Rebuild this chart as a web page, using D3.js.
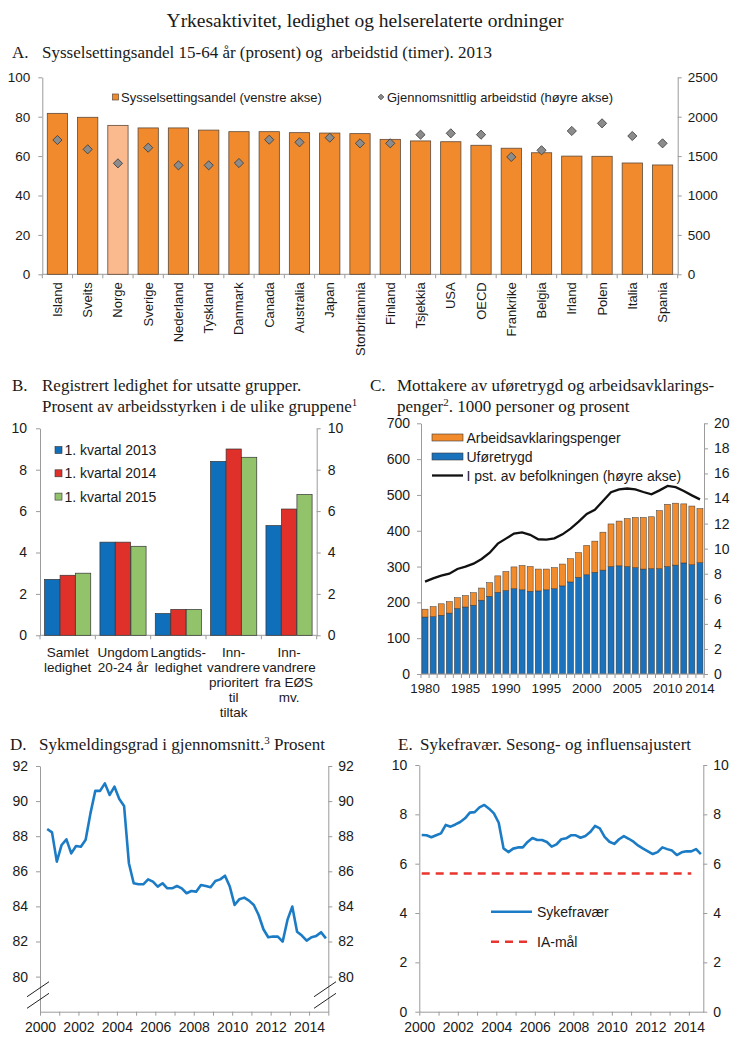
<!DOCTYPE html>
<html>
<head>
<meta charset="utf-8">
<script src="https://cdn.jsdelivr.net/npm/d3@7/dist/d3.min.js"></script>
<style>
  body { margin: 0; background: #fff; }
  svg { display: block; }
</style>
</head>
<body>
<div id="chart"></div>
<script>
// ---------- data ----------
// A
const countries = ["Island", "Sveits", "Norge", "Sverige", "Nederland", "Tyskland", "Danmark", "Canada",
  "Australia", "Japan", "Storbritannia", "Finland", "Tsjekkia", "USA", "OECD", "Frankrike", "Belgia",
  "Irland", "Polen", "Italia", "Spania"];
const employmentRate = [81.7, 79.7, 75.6, 74.3, 74.3, 73.2, 72.4, 72.4, 71.9, 71.7, 71.4, 68.5, 67.7,
  67.3, 65.5, 64.0, 61.7, 60.0, 59.9, 56.5, 55.5];
const hoursWorked = [1704, 1586, 1408, 1607, 1383, 1383, 1412, 1708, 1675, 1734, 1662, 1662, 1772,
  1789, 1772, 1489, 1574, 1819, 1916, 1755, 1662];

// B
const groupLabels = [["Samlet", "ledighet"], ["Ungdom", "20-24 år"], ["Langtids-", "ledighet"],
  ["Inn-", "vandrere", "prioritert", "til", "tiltak"], ["Inn-", "vandrere", "fra EØS", "mv."]];
const quarterKeys = ["1. kvartal 2013", "1. kvartal 2014", "1. kvartal 2015"];
const q1_2013 = [2.7, 4.5, 1.05, 8.4, 5.3];
const q1_2014 = [2.9, 4.5, 1.25, 9.0, 6.1];
const q1_2015 = [3.0, 4.3, 1.25, 8.6, 6.8];

// C
const yearsC = d3.range(1980, 2015);
const uforetrygd = [159, 160, 164, 170, 183, 187, 192, 206, 217, 228, 233, 238, 235, 231, 232, 235, 238,
  246, 257, 270, 277, 284, 290, 300, 302, 300, 297, 293, 294, 294, 300, 304, 310, 305, 311];
const arbeidsavklaring = [22, 28, 32, 32, 30, 32, 35, 34, 38, 46, 53, 61, 68, 69, 61, 58, 59, 61, 65, 69,
  82, 87, 106, 119, 125, 134, 140, 144, 145, 162, 174, 173, 165, 164, 151];
const befolkningPst = [7.37, 7.63, 7.85, 8.0, 8.38, 8.56, 8.8, 9.18, 9.68, 10.4, 10.8, 11.2, 11.3, 11.1,
  10.75, 10.72, 10.82, 11.14, 11.6, 12.15, 12.77, 13.1, 13.8, 14.5, 14.73, 14.8, 14.73, 14.52, 14.33,
  14.65, 15.0, 14.9, 14.6, 14.25, 13.93];
const yearLabelsC = [1980, 1985, 1990, 1995, 2000, 2005, 2010, 2014];

// D  (kvartal, 2000K2 - 2014K4)
const sykmeldingsgrad = [88.41, 88.22, 86.55, 87.5, 87.82, 87.02, 87.44, 87.4, 87.8, 89.3, 90.58, 90.58,
  91.01, 90.35, 90.82, 90.12, 89.72, 86.46, 85.32, 85.26, 85.26, 85.54, 85.41, 85.13, 85.32, 85.03, 85.03,
  85.16, 85.03, 84.75, 84.88, 84.84, 85.22, 85.16, 85.09, 85.45, 85.54, 85.75, 85.13, 84.08, 84.41, 84.5,
  84.33, 84.08, 83.51, 82.7, 82.24, 82.28, 82.28, 81.99, 83.23, 83.99, 82.56, 82.34, 82.05, 82.24, 82.32,
  82.53, 82.18];
const startD = 2000.25; // 2000K2

// E  (kvartal, 2000K1 - 2014K3)
const sykefravar = [7.16, 7.15, 7.07, 7.15, 7.23, 7.57, 7.5, 7.59, 7.69, 7.84, 8.07, 8.09, 8.28, 8.38,
  8.23, 8.04, 7.66, 6.62, 6.47, 6.61, 6.66, 6.66, 6.88, 7.04, 6.96, 6.96, 6.88, 6.69, 6.78, 6.99, 7.03,
  7.15, 7.15, 7.05, 7.12, 7.28, 7.53, 7.43, 7.09, 6.89, 6.8, 6.99, 7.12, 7.01, 6.89, 6.73, 6.61, 6.5,
  6.39, 6.47, 6.66, 6.59, 6.53, 6.35, 6.46, 6.5, 6.5, 6.59, 6.39];
const iaMal = 5.6;
const iaQuarters = 57;

// ---------- setup ----------
const W = 730, H = 1051;
const axisColor = "#9b9b9b", textColor = "#1a1a1a";
const sans = "'Liberation Sans', Arial, sans-serif";
const serif = "'Liberation Serif', 'Times New Roman', serif";

const svg = d3.select("#chart").append("svg")
  .attr("width", W).attr("height", H)
  .style("font-family", sans);

function styleAxis(g, size) {
  g.select(".domain").attr("stroke", axisColor);
  g.selectAll(".tick line").attr("stroke", axisColor);
  g.selectAll(".tick text").attr("fill", textColor).style("font-size", (size || 13.5) + "px")
    .style("font-family", sans);
}

function title(x, y, label, text, sup, rest, textX) {
  svg.append("text").attr("x", x).attr("y", y).style("font-family", serif)
    .style("font-size", "17px").attr("fill", textColor).text(label);
  const t = svg.append("text").attr("x", textX).attr("y", y).style("font-family", serif)
    .style("font-size", "17px").attr("fill", textColor).style("white-space", "pre");
  t.append("tspan").text(text);
  if (sup) {
    t.append("tspan").attr("dy", -6).style("font-size", "11px").text(sup);
    t.append("tspan").attr("dy", 6).text(rest || "");
  }
}

// main title
svg.append("text").attr("x", 365).attr("y", 27).attr("text-anchor", "middle")
  .style("font-family", serif).style("font-size", "19.5px").attr("fill", textColor)
  .text("Yrkesaktivitet, ledighet og helserelaterte ordninger");

// ================= Panel A =================
title(12, 58, "A.", "Sysselsettingsandel 15-64 år (prosent) og \u00a0arbeidstid (timer). 2013", null, null, 42);
{
  const x = d3.scaleBand().domain(countries).range([42.3, 677.7]).paddingInner(0.33).paddingOuter(0.165);
  const y = d3.scaleLinear().domain([0, 100]).range([274.3, 77.3]);
  const y2 = d3.scaleLinear().domain([0, 2500]).range([274.3, 77.3]);
  const g = svg.append("g");

  g.append("g").attr("transform", "translate(42.3,0)")
    .call(d3.axisLeft(y).tickValues(d3.range(0, 101, 20)).tickSize(4).tickSizeOuter(0).tickPadding(8))
    .call(a => styleAxis(a, 13.5));
  g.append("g").attr("transform", "translate(677.7,0)")
    .call(d3.axisRight(y2).tickValues(d3.range(0, 2501, 500)).tickFormat(d3.format("d"))
      .tickSize(4).tickSizeOuter(0).tickPadding(6))
    .call(a => styleAxis(a, 13.5));

  // category axis
  const step = x.step();
  g.append("line").attr("x1", 42.3).attr("x2", 677.7).attr("y1", y(0)).attr("y2", y(0)).attr("stroke", axisColor);
  g.selectAll(".catTick").data(d3.range(countries.length + 1)).join("line")
    .attr("x1", i => 42.3 + i * step).attr("x2", i => 42.3 + i * step)
    .attr("y1", y(0)).attr("y2", y(0) + 4).attr("stroke", axisColor);

  g.selectAll(".barA").data(countries).join("rect")
    .attr("x", d => x(d)).attr("width", x.bandwidth())
    .attr("y", (d, i) => y(employmentRate[i])).attr("height", (d, i) => y(0) - y(employmentRate[i]))
    .attr("fill", d => d === "Norge" ? "#fbb98e" : "#f08a2c")
    .attr("stroke", "#5e4a3a").attr("stroke-width", 0.8);

  g.selectAll(".diamond").data(countries).join("path")
    .attr("d", d3.symbol(d3.symbolSquare, 42))
    .attr("transform", (d, i) => `translate(${x(d) + x.bandwidth() / 2},${y2(hoursWorked[i])}) rotate(45)`)
    .attr("fill", "#8c8c8c").attr("stroke", "#3d3d3d").attr("stroke-width", 0.8);

  g.selectAll(".catLabel").data(countries).join("text")
    .attr("transform", d => `translate(${x(d) + x.bandwidth() / 2 + 4.5},${y(0) + 8}) rotate(-90)`)
    .attr("text-anchor", "end").style("font-size", "13px").attr("fill", textColor).text(d => d);

  // legend
  g.append("rect").attr("x", 112.5).attr("y", 94).attr("width", 6).attr("height", 6)
    .attr("fill", "#f08a2c").attr("stroke", "#5e4a3a").attr("stroke-width", 0.7);
  g.append("text").attr("x", 121).attr("y", 101.5).style("font-size", "13px").attr("fill", textColor)
    .text("Sysselsettingsandel (venstre akse)");
  g.append("path").attr("d", d3.symbol(d3.symbolSquare, 16))
    .attr("transform", "translate(381,97) rotate(45)")
    .attr("fill", "#8c8c8c").attr("stroke", "#3d3d3d").attr("stroke-width", 0.7);
  g.append("text").attr("x", 387).attr("y", 101.5).style("font-size", "13px").attr("fill", textColor)
    .text("Gjennomsnittlig arbeidstid (høyre akse)");
}

// ================= Panel B =================
title(12, 391, "B.", "Registrert ledighet for utsatte grupper.", null, null, 42);
title(12, 412, "", "Prosent av arbeidsstyrken i de ulike gruppene", "1", "", 42);
{
  const groups = groupLabels.map(d => d.join(" "));
  const seriesB = [q1_2013, q1_2014, q1_2015];
  const colorsB = ["#0f6fba", "#e0302a", "#92c36b"];
  const x0 = d3.scaleBand().domain(groups).range([40, 316.7]).paddingInner(0.155).paddingOuter(0.0775);
  const x1 = d3.scaleBand().domain(quarterKeys).range([0, x0.bandwidth()]).padding(0.02);
  const y = d3.scaleLinear().domain([0, 10]).range([635.3, 428.3]);
  const g = svg.append("g");

  g.append("g").attr("transform", "translate(40,0)")
    .call(d3.axisLeft(y).tickValues(d3.range(0, 11, 2)).tickSize(4).tickSizeOuter(0).tickPadding(9))
    .call(a => styleAxis(a, 14));
  g.append("g").attr("transform", "translate(316.7,0)")
    .call(d3.axisRight(y).tickValues(d3.range(0, 11, 2)).tickSize(4).tickSizeOuter(0).tickPadding(7))
    .call(a => styleAxis(a, 14));

  const step = x0.step();
  g.append("line").attr("x1", 40).attr("x2", 316.7).attr("y1", y(0)).attr("y2", y(0)).attr("stroke", axisColor);
  g.selectAll(".catTick").data(d3.range(groups.length + 1)).join("line")
    .attr("x1", i => 40 + i * step).attr("x2", i => 40 + i * step)
    .attr("y1", y(0)).attr("y2", y(0) + 4).attr("stroke", axisColor);

  quarterKeys.forEach((k, si) => {
    g.selectAll(".bar" + si).data(groups).join("rect")
      .attr("x", d => x0(d) + x1(k)).attr("width", x1.bandwidth())
      .attr("y", (d, i) => y(seriesB[si][i])).attr("height", (d, i) => y(0) - y(seriesB[si][i]))
      .attr("fill", colorsB[si]).attr("stroke", "#333").attr("stroke-width", 0.7);
  });

  groups.forEach((gname, gi) => {
    const t = g.append("text").attr("x", x0(gname) + x0.bandwidth() / 2).attr("y", 657)
      .attr("text-anchor", "middle").style("font-size", "13.5px").attr("fill", textColor);
    groupLabels[gi].forEach((line, li) => {
      t.append("tspan").attr("x", x0(gname) + x0.bandwidth() / 2).attr("dy", li === 0 ? 0 : 15).text(line);
    });
  });

  // legend
  quarterKeys.forEach((k, i) => {
    const cy = 450 + i * 23.3;
    g.append("rect").attr("x", 55).attr("y", cy - 3.5).attr("width", 7).attr("height", 7)
      .attr("fill", colorsB[i]).attr("stroke", "#333").attr("stroke-width", 0.6);
    g.append("text").attr("x", 64.5).attr("y", cy + 5).style("font-size", "14px").attr("fill", textColor).text(k);
  });
}

// ================= Panel C =================
title(370, 391, "C.", "Mottakere av uføretrygd og arbeidsavklarings-", null, null, 397);
title(370, 412, "", "penger", "2", ". 1000 personer og prosent", 397);
{
  const x = d3.scaleBand().domain(yearsC).range([421, 704]).paddingInner(0.26).paddingOuter(0.13);
  const y = d3.scaleLinear().domain([0, 700]).range([674, 423.3]);
  const y2 = d3.scaleLinear().domain([0, 20]).range([674, 423.3]);
  const g = svg.append("g");

  g.append("g").attr("transform", "translate(421,0)")
    .call(d3.axisLeft(y).tickValues(d3.range(0, 701, 100)).tickSize(4).tickSizeOuter(0).tickPadding(7))
    .call(a => styleAxis(a, 14));
  g.append("g").attr("transform", "translate(704,0)")
    .call(d3.axisRight(y2).tickValues(d3.range(0, 21, 2)).tickSize(4).tickSizeOuter(0).tickPadding(6))
    .call(a => styleAxis(a, 14));

  const stackData = yearsC.map((yr, i) => ({ year: yr, ufore: uforetrygd[i], aap: arbeidsavklaring[i] }));
  const stacked = d3.stack().keys(["ufore", "aap"])(stackData);
  const colorsC = { ufore: "#1a71bc", aap: "#f28b2c" };
  stacked.forEach(layer => {
    g.selectAll(".bar-" + layer.key).data(layer).join("rect")
      .attr("x", d => x(d.data.year)).attr("width", x.bandwidth())
      .attr("y", d => y(d[1])).attr("height", d => y(d[0]) - y(d[1]))
      .attr("fill", colorsC[layer.key]).attr("stroke", "#3a3a3a").attr("stroke-width", 0.5);
  });

  const step = x.step();
  g.append("line").attr("x1", 421).attr("x2", 704).attr("y1", y(0)).attr("y2", y(0)).attr("stroke", axisColor);
  g.selectAll(".catTick").data(d3.range(yearsC.length + 1)).join("line")
    .attr("x1", i => 421 + i * step).attr("x2", i => 421 + i * step)
    .attr("y1", y(0)).attr("y2", y(0) + 4).attr("stroke", axisColor);
  g.selectAll(".yrLabel").data(yearLabelsC).join("text")
    .attr("x", d => x(d) + x.bandwidth() / 2).attr("y", 693).attr("text-anchor", "middle")
    .style("font-size", "13.3px").attr("fill", textColor).text(d => d);

  const line = d3.line().x((d, i) => x(yearsC[i]) + x.bandwidth() / 2).y(d => y2(d));
  g.append("path").datum(befolkningPst).attr("d", line).attr("fill", "none")
    .attr("stroke", "#111").attr("stroke-width", 2.3);

  // legend
  const lx = 432, lw = 31;
  g.append("rect").attr("x", lx).attr("y", 434).attr("width", lw).attr("height", 7)
    .attr("fill", colorsC.aap).attr("stroke", "#3a3a3a").attr("stroke-width", 0.6);
  g.append("rect").attr("x", lx).attr("y", 453).attr("width", lw).attr("height", 7)
    .attr("fill", colorsC.ufore).attr("stroke", "#3a3a3a").attr("stroke-width", 0.6);
  g.append("line").attr("x1", lx).attr("x2", lx + lw).attr("y1", 475.5).attr("y2", 475.5)
    .attr("stroke", "#111").attr("stroke-width", 2.3);
  [["Arbeidsavklaringspenger", 442.5], ["Uføretrygd", 461.5], ["I pst. av befolkningen (høyre akse)", 481]]
    .forEach(([t, yy]) => g.append("text").attr("x", 466.5).attr("y", yy).style("font-size", "14px")
      .attr("fill", textColor).text(t));
}

// ================= Panel D =================
title(10, 750, "D.", "Sykmeldingsgrad i gjennomsnitt.", "3", " Prosent", 39);
{
  const x = d3.scaleLinear().domain([2000, 2015]).range([40, 328.3]);
  const y = d3.scaleLinear().domain([78, 92]).range([1011.7, 766]);
  const g = svg.append("g");

  g.append("g").attr("transform", "translate(40,0)")
    .call(d3.axisLeft(y).tickValues(d3.range(80, 93, 2)).tickSize(4).tickSizeOuter(0).tickPadding(8))
    .call(a => styleAxis(a, 14));
  g.append("g").attr("transform", "translate(328.3,0)")
    .call(d3.axisRight(y).tickValues(d3.range(80, 93, 2)).tickSize(4).tickSizeOuter(0).tickPadding(6))
    .call(a => styleAxis(a, 14));
  g.append("g").attr("transform", `translate(0,${y(78)})`)
    .call(d3.axisBottom(x).tickValues(d3.range(2000, 2016)).tickSize(4).tickSizeOuter(0).tickPadding(6)
      .tickFormat(d => d % 2 === 0 && d < 2015 ? d : ""))
    .call(a => styleAxis(a, 14));

  // axis break marks
  [79.28, 78.62].forEach(v => {
    g.append("line").attr("x1", 27).attr("x2", 49).attr("y1", y(v) + 7.5).attr("y2", y(v) - 7.5)
      .attr("stroke", "#222").attr("stroke-width", 1);
    g.append("line").attr("x1", 314).attr("x2", 336).attr("y1", y(v) + 7.5).attr("y2", y(v) - 7.5)
      .attr("stroke", "#222").attr("stroke-width", 1);
  });

  const line = d3.line().x((d, i) => x(startD + i * 0.25 + 0.125)).y(d => y(d));
  g.append("path").datum(sykmeldingsgrad).attr("d", line).attr("fill", "none")
    .attr("stroke", "#1b7cc5").attr("stroke-width", 2.6).attr("stroke-linejoin", "round");
}

// ================= Panel E =================
title(398, 750, "E.", "Sykefravær. Sesong- og influensajustert", null, null, 420);
{
  const x = d3.scaleLinear().domain([0, 59]).range([419.3, 703.3]); // kvartal fra 2000K1
  const y = d3.scaleLinear().domain([0, 10]).range([1011.7, 765]);
  const g = svg.append("g");

  g.append("g").attr("transform", "translate(419.3,0)")
    .call(d3.axisLeft(y).tickValues(d3.range(0, 11, 2)).tickSize(4).tickSizeOuter(0).tickPadding(8))
    .call(a => styleAxis(a, 14));
  g.append("g").attr("transform", "translate(703.3,0)")
    .call(d3.axisRight(y).tickValues(d3.range(0, 11, 2)).tickSize(4).tickSizeOuter(0).tickPadding(6))
    .call(a => styleAxis(a, 14));
  g.append("g").attr("transform", `translate(0,${y(0)})`)
    .call(d3.axisBottom(x).tickValues(d3.range(0, 57, 4)).tickSize(4).tickSizeOuter(0).tickPadding(6)
      .tickFormat(d => (d / 4) % 2 === 0 ? 2000 + d / 4 : ""))
    .call(a => styleAxis(a, 14));

  g.append("line").attr("x1", x(0.5)).attr("x2", x(iaQuarters - 0.5)).attr("y1", y(iaMal)).attr("y2", y(iaMal))
    .attr("stroke", "#e8352f").attr("stroke-width", 2.4).attr("stroke-dasharray", "8,6");

  const line = d3.line().x((d, i) => x(i + 0.5)).y(d => y(d));
  g.append("path").datum(sykefravar).attr("d", line).attr("fill", "none")
    .attr("stroke", "#1b7cc5").attr("stroke-width", 2.6).attr("stroke-linejoin", "round");

  // legend
  g.append("line").attr("x1", 491).attr("x2", 532).attr("y1", 911.7).attr("y2", 911.7)
    .attr("stroke", "#1b7cc5").attr("stroke-width", 2.6);
  g.append("text").attr("x", 537).attr("y", 917).style("font-size", "14px").attr("fill", textColor).text("Sykefravær");
  g.append("line").attr("x1", 491).attr("x2", 532).attr("y1", 941.7).attr("y2", 941.7)
    .attr("stroke", "#e8352f").attr("stroke-width", 2.4).attr("stroke-dasharray", "8,6");
  g.append("text").attr("x", 537).attr("y", 947).style("font-size", "14px").attr("fill", textColor).text("IA-mål");
}
</script>
</body>
</html>
